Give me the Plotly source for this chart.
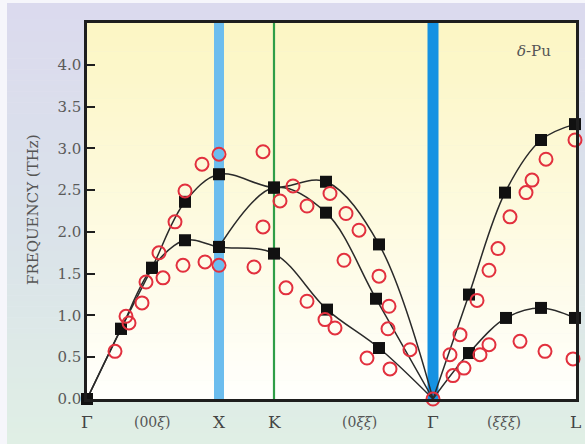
import plotly.graph_objects as go

# ---------------- data (path coordinate along Γ–X–K–Γ–L, frequency in THz) -------------
sym_labels = ["Γ", "X", "K", "Γ", "L"]
sym_pos = [0, 132, 187, 346, 488]
dir_labels = ["(00<i>ξ</i>)", "(0<i>ξξ</i>)", "(<i>ξξξ</i>)"]
dir_pos = [65, 272, 417]

# theory branches (black squares, connected by smooth curves)
b1_q = [0, 34, 65, 98, 132, 187, 239, 292]
b1_f = [0.0, 0.84, 1.57, 2.36, 2.69, 2.53, 2.60, 1.85]
b2_q = [0, 34, 65, 98, 132, 187, 240, 292]
b2_f = [0.0, 0.84, 1.57, 1.90, 1.82, 1.74, 1.07, 0.61]
b3_q = [132, 187, 239, 289]
b3_f = [1.82, 2.53, 2.23, 1.20]
b4_q = [382, 418, 454, 488]
b4_f = [1.25, 2.47, 3.10, 3.29]
b5_q = [382, 419, 454, 488]
b5_f = [0.55, 0.97, 1.09, 0.97]

# measured points (red open circles)
exp_q = [28, 39, 42, 55, 59, 72, 76, 88, 96, 98, 115, 118, 132, 132,
         167, 176, 176, 193, 199,
         206, 220, 243, 259, 272, 257, 292, 220, 302, 238, 248, 301, 323, 280, 303, 346,
         488, 459, 445, 439, 423, 411, 402, 390, 373, 363, 366, 377, 393, 402, 433, 458, 486]
exp_f = [0.57, 0.99, 0.91, 1.15, 1.40, 1.75, 1.45, 2.12, 1.60, 2.49, 2.81, 1.64, 2.93, 1.60,
         1.58, 2.96, 2.06, 2.37, 1.33,
         2.55, 2.31, 2.46, 2.22, 2.02, 1.66, 1.47, 1.17, 1.11, 0.95, 0.85, 0.84, 0.59, 0.49, 0.36, 0.0,
         3.10, 2.87, 2.62, 2.47, 2.18, 1.80, 1.54, 1.18, 0.77, 0.53, 0.28, 0.37, 0.53, 0.65, 0.69, 0.57, 0.48]

y_ticks = [0.0, 0.5, 1.0, 1.5, 2.0, 2.5, 3.0, 3.5, 4.0]

# ---------------- layout geometry helpers ----------------
W, H = 585, 444
L_M, R_M, T_M, B_M = 87, 9, 23, 45
PW, PH = W - L_M - R_M, H - T_M - B_M


def px(xp):
    return (xp - L_M) / PW


def py(yp):
    return (H - B_M - yp) / PH


def lerp(c1, c2, t):
    return "rgb(%d,%d,%d)" % tuple(round(a + (b - a) * t) for a, b in zip(c1, c2))


shapes = []
# page gradient (lavender -> mint)
N = 80
top_c, mid_c, bot_c = (219, 218, 238), (218, 226, 234), (224, 239, 229)
y_start, y_end = 3, H
for i in range(N):
    y0 = y_start + (y_end - y_start) * i / N
    y1 = y_start + (y_end - y_start) * (i + 1) / N + 0.6
    t = (i + 0.5) / N
    col = lerp(top_c, mid_c, t * 2) if t < 0.5 else lerp(mid_c, bot_c, (t - 0.5) * 2)
    shapes.append(dict(type="rect", xref="paper", yref="paper", layer="below",
                       x0=px(7), x1=px(W + 2), y0=py(y1), y1=py(y0),
                       fillcolor=col, line=dict(width=0)))
# plot-area gradient (pale yellow -> white)
N2 = 80
p_top, p_bot = (252, 246, 196), (255, 255, 253)
for i in range(N2):
    y0 = T_M + PH * i / N2
    y1 = T_M + PH * (i + 1) / N2 + 0.6
    t = (i + 0.5) / N2
    col = lerp(p_top, p_bot, t ** 1.1)
    shapes.append(dict(type="rect", xref="paper", yref="paper", layer="below",
                       x0=0, x1=1, y0=py(min(y1, T_M + PH)), y1=py(y0),
                       fillcolor=col, line=dict(width=0)))
# symmetry-point bars
shapes.append(dict(type="line", xref="x", yref="paper", layer="below",
                   x0=sym_pos[1], x1=sym_pos[1], y0=0, y1=1,
                   line=dict(color="#6cbdee", width=10)))
shapes.append(dict(type="line", xref="x", yref="paper", layer="below",
                   x0=sym_pos[2], x1=sym_pos[2], y0=0, y1=1,
                   line=dict(color="#2f9e48", width=2.2)))
shapes.append(dict(type="line", xref="x", yref="paper", layer="below",
                   x0=sym_pos[3], x1=sym_pos[3], y0=0, y1=1,
                   line=dict(color="#1592e2", width=11)))

fig = go.Figure()

line_style = dict(color="#2a2a2a", width=1.5, shape="spline", smoothing=1.0)
g2 = sym_pos[3]
for q, f in [(b1_q, b1_f), (b2_q, b2_f), (b3_q, b3_f)]:
    fig.add_trace(go.Scatter(x=q + [g2], y=f + [0.0], mode="lines", line=line_style,
                             hoverinfo="skip", showlegend=False, cliponaxis=False))
for q, f in [(b4_q, b4_f), (b5_q, b5_f)]:
    fig.add_trace(go.Scatter(x=[g2] + q, y=[0.0] + f, mode="lines", line=line_style,
                             hoverinfo="skip", showlegend=False, cliponaxis=False))

sq_q = b1_q + b2_q + b3_q + b4_q + b5_q
sq_f = b1_f + b2_f + b3_f + b4_f + b5_f
fig.add_trace(go.Scatter(x=sq_q, y=sq_f, mode="markers",
                         marker=dict(symbol="square", size=12, color="#111111"),
                         showlegend=False, cliponaxis=False))
fig.add_trace(go.Scatter(x=exp_q, y=exp_f, mode="markers",
                         marker=dict(symbol="circle-open", size=13, color="#e2303e",
                                     line=dict(width=2, color="#e2303e")),
                         showlegend=False, cliponaxis=False))

annotations = []
lab_y = py(422)
for lab, pos in zip(sym_labels, sym_pos):
    annotations.append(dict(x=pos, y=lab_y, xref="x", yref="paper", text=lab,
                            showarrow=False, xanchor="center", yanchor="middle",
                            font=dict(family="DejaVu Serif", size=17, color="#444444")))
for lab, pos in zip(dir_labels, dir_pos):
    annotations.append(dict(x=pos, y=lab_y, xref="x", yref="paper", text=lab,
                            showarrow=False, xanchor="center", yanchor="middle",
                            font=dict(family="DejaVu Serif", size=14, color="#555555")))
annotations.append(dict(x=px(33), y=py(210), xref="paper", yref="paper",
                        text="FREQUENCY (THz)", textangle=-90, showarrow=False,
                        xanchor="center", yanchor="middle",
                        font=dict(family="DejaVu Serif", size=15, color="#555555")))
annotations.append(dict(x=px(534), y=py(51), xref="paper", yref="paper",
                        text="<i>δ</i>-Pu", showarrow=False,
                        xanchor="center", yanchor="middle",
                        font=dict(family="DejaVu Serif", size=15, color="#555555")))

fig.update_layout(
    width=W, height=H,
    margin=dict(l=L_M, r=R_M, t=T_M, b=B_M, pad=0, autoexpand=False),
    paper_bgcolor="#f6f6fb",
    plot_bgcolor="rgba(0,0,0,0)",
    shapes=shapes,
    annotations=annotations,
    xaxis=dict(range=[0, PW], showgrid=False, zeroline=False, showticklabels=False,
               ticks="", showline=True, linecolor="#1e1e1e", linewidth=2.5, mirror=True,
               fixedrange=True, automargin=False),
    yaxis=dict(range=[0, 4.5], showgrid=False, zeroline=False,
               tickvals=y_ticks, ticktext=["%.1f" % v for v in y_ticks],
               ticks="inside", ticklen=8, tickwidth=2, tickcolor="#1e1e1e",
               tickfont=dict(family="DejaVu Serif", size=15, color="#5a5a5a"),
               showline=True, linecolor="#1e1e1e", linewidth=2.5, mirror=True,
               fixedrange=True, automargin=False),
)

fig.write_html("out.html", config={"displayModeBar": False},
               post_script="document.body.style.margin='0px';document.body.style.overflow='hidden';")
